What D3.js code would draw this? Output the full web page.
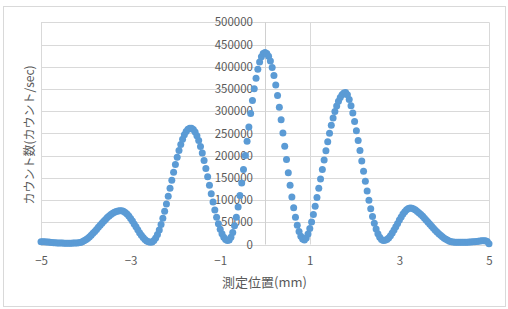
<!DOCTYPE html>
<html><head><meta charset="utf-8">
<script src="https://cdn.jsdelivr.net/npm/d3@7"></script>
<style>html,body{margin:0;padding:0;background:#fff;overflow:hidden}</style>
</head><body>
<svg id="c" width="508" height="309"></svg>
<script>
const positions = [
-5,-4.96,-4.92,-4.88,-4.84,-4.8,-4.76,-4.72,-4.68,-4.64,-4.6,-4.56,-4.52,-4.48,-4.44,-4.4,-4.36,-4.32,-4.28,-4.24,
-4.2,-4.16,-4.12,-4.08,-4.04,-4,-3.96,-3.92,-3.88,-3.84,-3.8,-3.76,-3.72,-3.68,-3.64,-3.6,-3.56,-3.52,-3.48,-3.44,
-3.4,-3.36,-3.32,-3.28,-3.24,-3.2,-3.16,-3.12,-3.08,-3.04,-3,-2.96,-2.92,-2.88,-2.84,-2.8,-2.76,-2.72,-2.68,-2.64,
-2.6,-2.56,-2.52,-2.48,-2.44,-2.4,-2.36,-2.32,-2.28,-2.24,-2.2,-2.16,-2.12,-2.08,-2.04,-2,-1.96,-1.92,-1.88,-1.84,
-1.8,-1.76,-1.72,-1.68,-1.64,-1.6,-1.56,-1.52,-1.48,-1.44,-1.4,-1.36,-1.32,-1.28,-1.24,-1.2,-1.16,-1.12,-1.08,-1.04,
-1,-0.96,-0.92,-0.88,-0.84,-0.8,-0.76,-0.72,-0.68,-0.64,-0.6,-0.56,-0.52,-0.48,-0.44,-0.4,-0.36,-0.32,-0.28,-0.24,
-0.2,-0.16,-0.12,-0.08,-0.04,0,0.04,0.08,0.12,0.16,0.2,0.24,0.28,0.32,0.36,0.4,0.44,0.48,0.52,0.56,
0.6,0.64,0.68,0.72,0.76,0.8,0.84,0.88,0.92,0.96,1,1.04,1.08,1.12,1.16,1.2,1.24,1.28,1.32,1.36,
1.4,1.44,1.48,1.52,1.56,1.6,1.64,1.68,1.72,1.76,1.8,1.84,1.88,1.92,1.96,2,2.04,2.08,2.12,2.16,
2.2,2.24,2.28,2.32,2.36,2.4,2.44,2.48,2.52,2.56,2.6,2.64,2.68,2.72,2.76,2.8,2.84,2.88,2.92,2.96,
3,3.04,3.08,3.12,3.16,3.2,3.24,3.28,3.32,3.36,3.4,3.44,3.48,3.52,3.56,3.6,3.64,3.68,3.72,3.76,
3.8,3.84,3.88,3.92,3.96,4,4.04,4.08,4.12,4.16,4.2,4.24,4.28,4.32,4.36,4.4,4.44,4.48,4.52,4.56,
4.6,4.64,4.68,4.72,4.76,4.8,4.84,4.88,4.92,4.96,5
];
const counts = [
6000,6200,6100,5800,5400,5000,4600,4200,3900,3600,3400,
3200,3100,3000,3000,2900,2900,3000,3100,3300,3500,
3800,4700,6150,8160,10700,13700,17150,20960,25070,29430,33960,38590,43230,47820,52270,56520,60500,64120,67350,70110,72410,74140,75330,75930,
75840,74600,72170,68620,64090,58730,52730,46300,39670,33070,26720,20870,15730,11370,8130,5970,5040,
5720,8900,14560,22590,32830,45070,59150,74590,91200,108750,126720,144840,162720,180020,196440,211600,225270,237100,246710,254110,259170,261680,
261640,258750,253040,244650,233760,220620,205670,188960,170930,152200,133100,114050,95460,77840,61520,46930,34410,24130,16240,11230,9090,
10360,16380,27060,42200,61370,84210,110200,138560,168970,200500,232500,264200,294900,323900,350570,374220,394550,410800,422560,429630,432000,
429850,423450,412930,398530,380460,359180,335070,308650,280450,251010,221000,191000,161550,133350,106930,82840,61530,43470,29070,18530,12150,10000,
14530,23680,36000,50800,67640,86130,105980,126530,147610,168990,190210,211060,231180,250270,268100,284500,299110,311820,322510,330940,337080,340760,342000,
336850,326450,312460,295680,276700,255990,234000,211300,188100,165000,142300,120400,99700,80500,63050,47630,34670,24200,16230,11260,9090,
9450,11420,14890,19690,25620,32420,39790,47410,54950,62070,68470,73870,78020,80760,81950,
81420,79760,77400,74490,71130,67410,63400,59150,54740,50240,45670,41140,36670,32320,28150,24210,20540,17170,14150,11540,9310,7540,6220,5380,5020,
4900,4800,4800,4900,5000,5100,5300,5500,5700,6000,6300,6700,7200,7800,8300,8600,8500,6500,1500
];
const xTickValues = [-5, -3, -1, 1, 3, 5];
const yTickValues = [0, 50000, 100000, 150000, 200000, 250000, 300000, 350000, 400000, 450000, 500000];
const xGridValues = [-5, 1, 5];
const xTitle = "測定位置(mm)";
const yTitle = "カウント数(カウント/sec)";

const FONT = "'Noto Sans CJK JP','Noto Sans',sans-serif";
const TXT = "#595959";
const GRID = "#d9d9d9";

const svg = d3.select("#c");
svg.append("rect").attr("x", 3.5).attr("y", 6.5).attr("width", 502).attr("height", 300)
  .attr("fill", "#fff").attr("stroke", GRID);

const x = d3.scaleLinear().domain([-5, 5]).range([41, 489]);
const y = d3.scaleLinear().domain([0, 500000]).range([244.5, 22.3]);

// horizontal gridlines
svg.append("g").selectAll("line").data(yTickValues).join("line")
  .attr("x1", x(-5)).attr("x2", x(5))
  .attr("y1", d => Math.round(y(d)) + 0.5).attr("y2", d => Math.round(y(d)) + 0.5)
  .attr("stroke", GRID).attr("stroke-width", 1);
// vertical gridlines
svg.append("g").selectAll("line").data(xGridValues).join("line")
  .attr("x1", d => Math.round(x(d)) + 0.5).attr("x2", d => Math.round(x(d)) + 0.5)
  .attr("y1", y(500000)).attr("y2", y(0))
  .attr("stroke", GRID).attr("stroke-width", 1);
// vertical axis line at x = 0
svg.append("line")
  .attr("x1", Math.round(x(0)) + 0.5).attr("x2", Math.round(x(0)) + 0.5)
  .attr("y1", y(500000)).attr("y2", y(0))
  .attr("stroke", "#d0d0d0");

// y axis labels
const yAxis = svg.append("g").attr("transform", `translate(${x(0)},0)`)
  .call(d3.axisLeft(y).tickValues(yTickValues).tickFormat(d3.format("d")).tickSize(0).tickPadding(12));
yAxis.select(".domain").remove();
yAxis.selectAll("text").attr("fill", TXT).style("font-family", FONT).style("font-size", "11.5px");

// x axis labels
const xAxis = svg.append("g").attr("transform", `translate(0,${y(0)})`)
  .call(d3.axisBottom(x).tickValues(xTickValues).tickFormat(d3.format("d")).tickSize(0).tickPadding(12.5));
xAxis.select(".domain").remove();
xAxis.selectAll("text").attr("fill", TXT).style("font-family", FONT).style("font-size", "11.5px");

// titles
svg.append("text").attr("x", 264.5).attr("y", 287).attr("text-anchor", "middle")
  .attr("fill", TXT).style("font-family", FONT).style("font-size", "13px").text(xTitle);
svg.append("text").attr("transform", "translate(34,135) rotate(-90)").attr("text-anchor", "middle")
  .attr("fill", TXT).style("font-family", FONT).style("font-size", "12px").text(yTitle);

// points
const pts = positions.map((p, i) => ({p, c: counts[i]}));
svg.append("g").selectAll("circle").data(pts).join("circle")
  .attr("cx", d => x(d.p)).attr("cy", d => y(d.c)).attr("r", 3.5)
  .attr("fill", "#5B9BD5");
</script>
</body></html>
